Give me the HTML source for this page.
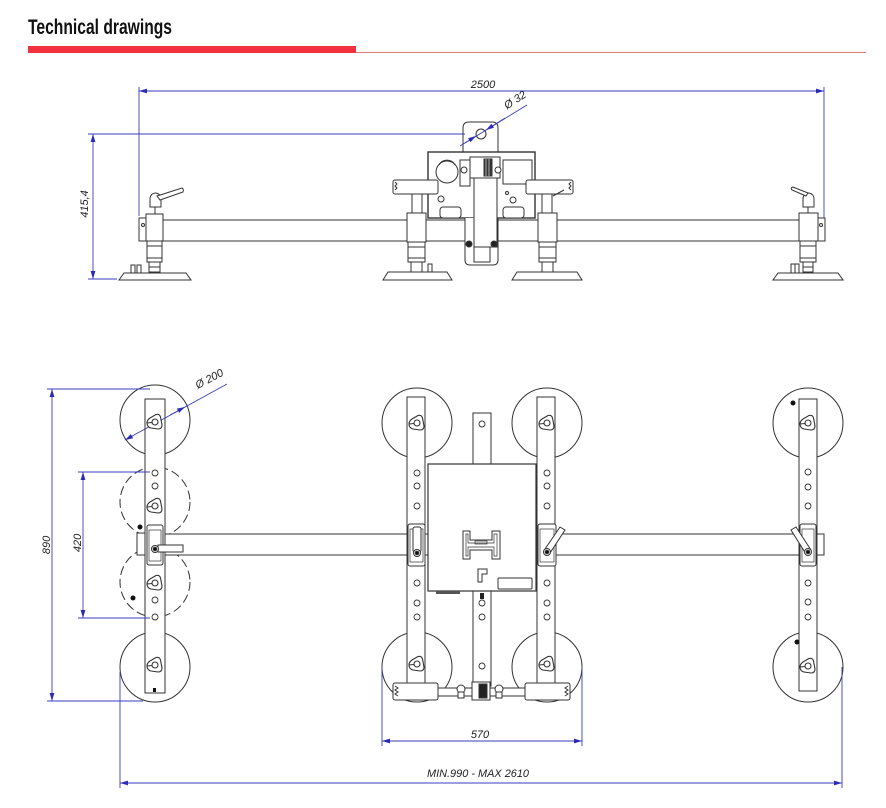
<!DOCTYPE html>
<html><head><meta charset="utf-8"><style>
html,body{margin:0;padding:0;background:#fff;width:886px;height:808px;overflow:hidden}
svg{display:block}
</style></head><body>
<svg width="886" height="808" viewBox="0 0 886 808" xmlns="http://www.w3.org/2000/svg">
<defs>
<marker id="ar" viewBox="0 0 8 6" refX="8" refY="3" markerWidth="8" markerHeight="6" markerUnits="userSpaceOnUse" orient="auto-start-reverse"><path d="M0,0.6 L8,3 L0,5.4 z" fill="#2b2bb8"/></marker>
<g id="knob" fill="#fff" stroke="#333" stroke-width="1.1">
<path d="M-8,1 Q-8,-2 -5,-4 L1,-7.5 Q4.5,-8.5 5.5,-5 L7,3 Q7,7 3,7 L-4,6 Q-8,5 -8,1 Z"/>
<circle cx="0" cy="0" r="3"/>
<line x1="-8" y1="1" x2="-3" y2="0.5"/>
</g>
<g id="hole"><circle cx="0" cy="0" r="3" fill="#fff" stroke="#333" stroke-width="0.9"/></g>
</defs>

<!-- Header -->
<text x="28" y="34" font-family="'Liberation Sans Narrow','Liberation Sans',sans-serif" font-weight="bold" font-size="21" textLength="144" lengthAdjust="spacingAndGlyphs" fill="#111">Technical drawings</text>
<rect x="28" y="46" width="328" height="7" fill="#f2333f"/>
<line x1="356" y1="52.5" x2="866" y2="52.5" stroke="#e07880" stroke-width="1"/>

<!-- ================= TOP VIEW ================= -->
<g stroke="#333" stroke-width="1" fill="#fff">
  <rect x="147" y="220" width="671" height="21"/>
  <rect x="139" y="218" width="8" height="23"/>
  <circle cx="143" cy="225" r="1.5" fill="none"/>
  <rect x="818" y="218" width="7" height="23"/>
  <circle cx="821" cy="225" r="1.5" fill="none"/>

  <!-- left outer leg -->
  <line x1="155" y1="206" x2="155" y2="214"/>
  <path d="M150,207 L150,198 Q151,193 156,193 Q161,194 161,199 L161,207 Z"/>
  <path d="M157,196 L182,188 Q184,189 183,192 L160,200 Z"/>
  <rect x="146" y="214" width="17" height="27"/>
  <rect x="147" y="241" width="15" height="21"/>
  <line x1="147" y1="246" x2="162" y2="246"/>
  <line x1="147" y1="258" x2="162" y2="258"/>
  <rect x="149" y="262" width="11" height="10"/>
  <line x1="149" y1="267" x2="160" y2="267"/>
  <rect x="131" y="265" width="4" height="8"/>
  <rect x="137" y="265" width="4" height="8"/>
  <polygon points="119,280 124,273 186,273 191,280"/>

  <!-- right outer leg -->
  <line x1="808" y1="206" x2="808" y2="213"/>
  <path d="M803,207 L803,198 Q804,193 809,193 Q814,194 814,199 L814,207 Z"/>
  <path d="M806,196 L792,190 Q790,188 793,187 L808,193 Z"/>
  <rect x="799" y="213" width="19" height="28"/>
  <rect x="800" y="241" width="16" height="21"/>
  <line x1="800" y1="246" x2="816" y2="246"/>
  <line x1="800" y1="258" x2="816" y2="258"/>
  <rect x="803" y="262" width="10" height="10"/>
  <line x1="803" y1="267" x2="813" y2="267"/>
  <rect x="791" y="264" width="4" height="9"/>
  <rect x="795" y="264" width="4" height="9"/>
  <polygon points="773,280 778,273 838,273 843,280"/>

  <!-- housing -->
  <path d="M463,152 V128 Q463,122 469,122 H492 Q498,122 498,128 V152"/>
  <circle cx="481" cy="134" r="5"/>
  <rect x="428" y="152" width="107" height="66" stroke-width="1.4"/>
  <circle cx="447" cy="172" r="11"/>
  <path d="M439,165 A9,9 0 0 1 455,165" fill="none"/>
  <rect x="503" y="160" width="29" height="24"/>
  <rect x="460" y="160" width="10" height="26" fill="none"/>
  <rect x="470" y="157" width="30" height="21"/>
  <rect x="484" y="159" width="8" height="17" fill="#333"/>
  <line x1="486" y1="159" x2="486" y2="176" stroke="#fff" stroke-width="0.6"/>
  <line x1="489" y1="159" x2="489" y2="176" stroke="#fff" stroke-width="0.6"/>
  <circle cx="464" cy="170" r="3"/>
  <circle cx="498" cy="170" r="3"/>
  <circle cx="441" cy="199" r="3"/>
  <circle cx="513" cy="200" r="3"/>
  <circle cx="507" cy="193" r="1.5" fill="none"/>
  <rect x="440" y="207" width="21" height="11" rx="3"/>
  <rect x="503" y="207" width="21" height="11" rx="3"/>

  <!-- central column + U -->
  <path d="M465,218 V260 Q465,265 470,265 H493 Q498,265 498,260 V218"/>
  <rect x="474" y="178" width="23" height="69"/>
  <rect x="474" y="247" width="16" height="15"/>
  <circle cx="469" cy="244" r="3" fill="#222"/>
  <circle cx="494" cy="244" r="3" fill="#222"/>

  <!-- handles -->
  <rect x="393" y="180" width="45" height="14" rx="2"/>
  <path d="M395,182 l2,2 l-2,2 l2,2 l-2,2" fill="none"/>
  <rect x="526" y="180" width="47" height="14" rx="2"/>
  <path d="M571,182 l-2,2 l2,2 l-2,2 l2,2" fill="none"/>
  <path d="M553,196 L564,190" fill="none"/>

  <!-- inner left leg -->
  <rect x="412" y="194" width="10" height="19"/>
  <rect x="407" y="213" width="19" height="29"/>
  <rect x="408" y="242" width="17" height="20"/>
  <line x1="408" y1="247" x2="425" y2="247"/>
  <line x1="408" y1="258" x2="425" y2="258"/>
  <rect x="411" y="262" width="11" height="10"/>
  <rect x="428" y="264" width="4" height="8"/>
  <polygon points="383,280 388,272 447,272 452,280"/>

  <!-- inner right leg -->
  <rect x="542" y="194" width="10" height="19"/>
  <rect x="538" y="213" width="19" height="29"/>
  <rect x="539" y="242" width="17" height="20"/>
  <line x1="539" y1="247" x2="556" y2="247"/>
  <line x1="539" y1="258" x2="556" y2="258"/>
  <rect x="542" y="262" width="11" height="10"/>
  <polygon points="512,280 517,272 577,272 582,280"/>
</g>

<!-- top view dimensions -->
<g stroke="#3b3bc0" stroke-width="0.9" fill="none">
  <line x1="139" y1="87" x2="139" y2="216"/>
  <line x1="824" y1="87" x2="824" y2="218"/>
  <line x1="139" y1="91" x2="824" y2="91" marker-start="url(#ar)" marker-end="url(#ar)"/>
  <line x1="88" y1="134" x2="465" y2="134"/>
  <line x1="88" y1="279" x2="117" y2="279"/>
  <line x1="93" y1="134" x2="93" y2="279" marker-start="url(#ar)" marker-end="url(#ar)"/>
  <line x1="465" y1="143" x2="527" y2="105"/>
  <line x1="460" y1="146" x2="476" y2="136" marker-end="url(#ar)"/>
  <line x1="505" y1="118" x2="486" y2="130" marker-end="url(#ar)"/>
</g>
<g font-family="'Liberation Sans',sans-serif" font-style="italic" font-size="11" fill="#222" text-anchor="middle">
  <text x="483" y="88">2500</text>
  <text transform="translate(88,204) rotate(-90)">415,4</text>
  <text transform="translate(517,103) rotate(-33)">Ø 32</text>
</g>

<!-- ================= BOTTOM VIEW ================= -->
<g stroke="#333" stroke-width="1" fill="none">
  <circle cx="155" cy="420" r="35"/>
  <circle cx="155" cy="667" r="35"/>
  <circle cx="155" cy="502" r="35" stroke-dasharray="9 4"/>
  <circle cx="155" cy="582" r="35" stroke-dasharray="9 4"/>
  <circle cx="417" cy="423" r="35"/>
  <circle cx="547" cy="423" r="35"/>
  <circle cx="417" cy="667" r="35"/>
  <circle cx="547" cy="667" r="35"/>
  <circle cx="808" cy="423" r="35"/>
  <circle cx="808" cy="667" r="35"/>
</g>
<!-- Ø200 line under bars -->
<g stroke="#3b3bc0" stroke-width="0.9" fill="none">
  <line x1="125" y1="440" x2="227" y2="384" marker-start="url(#ar)"/>
  <line x1="170" y1="415" x2="185" y2="407" marker-end="url(#ar)"/>
</g>
<g stroke="#333" stroke-width="1" fill="#fff">
  <rect x="147" y="534" width="670" height="21"/>
  <rect x="137" y="533" width="10" height="22"/>
  <rect x="817" y="534" width="7" height="21"/>
  <rect x="145" y="399" width="20" height="294"/>
  <rect x="407" y="397" width="18" height="293"/>
  <rect x="537" y="397" width="18" height="293"/>
  <rect x="799" y="399" width="18" height="292"/>
  <rect x="473" y="413" width="18" height="51"/>
  <rect x="473" y="591" width="18" height="95"/>
  <rect x="428" y="464" width="108" height="127" stroke-width="1.2"/>
  <rect x="436" y="591" width="24" height="3" fill="#555" stroke="none"/>
  <rect x="480" y="593" width="4" height="6" fill="#222" stroke="none"/>
  <path d="M463,531 H470 V540 H492 V531 H500 V559 H492 V550 H470 V559 H463 Z"/>
  <path d="M466,534 H468 V543 H494 V534 H497 V556 H494 V547 H468 V556 H466 Z" fill="none" stroke-width="0.7"/>
  <rect x="475" y="541" width="12" height="3" fill="none" stroke-width="0.7"/>
  <path d="M478,582 V569 H487 V574 H482 V582 Z"/>
  <rect x="498" y="578" width="34" height="11" rx="1"/>
</g>
<!-- Ø200 line visible over bar -->
<line x1="145" y1="429" x2="165" y2="418" stroke="#3b3bc0" stroke-width="0.9"/>

<!-- clamps -->
<g stroke="#333" stroke-width="1" fill="#fff">
  <rect x="147" y="525" width="16" height="40" rx="2"/>
  <rect x="149" y="530" width="12" height="31" fill="none" stroke-width="0.7"/>
  <rect x="158" y="545" width="25" height="7"/>
  <circle cx="155" cy="549" r="3.5"/>
  <circle cx="155" cy="549" r="1.8" fill="#111"/>

  <rect x="408" y="524" width="17" height="42" rx="2"/>
  <rect x="410" y="529" width="13" height="33" fill="none" stroke-width="0.7"/>
  <rect x="413" y="527" width="8" height="25" rx="2"/>
  <circle cx="417" cy="553" r="3.5"/>
  <circle cx="417" cy="553" r="1.8" fill="#111"/>

  <rect x="538" y="524" width="18" height="42" rx="2"/>
  <rect x="540" y="529" width="14" height="33" fill="none" stroke-width="0.7"/>
  <path d="M545,549 L560,527 L565,530 L550,553 Z"/>
  <circle cx="547" cy="552" r="3.5"/>
  <circle cx="547" cy="552" r="1.8" fill="#111"/>

  <rect x="800" y="524" width="16" height="42" rx="2"/>
  <rect x="802" y="529" width="12" height="33" fill="none" stroke-width="0.7"/>
  <path d="M806,554 L791,530 L796,527 L811,550 Z"/>
  <circle cx="808" cy="552" r="3.5"/>
  <circle cx="808" cy="552" r="1.8" fill="#111"/>
</g>

<!-- knobs -->
<use href="#knob" x="155" y="422"/>
<use href="#knob" x="155" y="506"/>
<use href="#knob" x="155" y="583"/>
<use href="#knob" x="155" y="665"/>
<use href="#knob" x="417" y="423"/>
<use href="#knob" x="547" y="423"/>
<use href="#knob" x="417" y="664"/>
<use href="#knob" x="547" y="664"/>
<use href="#knob" x="808" y="423"/>
<use href="#knob" x="808" y="666"/>

<!-- holes -->
<use href="#hole" x="155" y="473"/><use href="#hole" x="155" y="486"/>
<use href="#hole" x="155" y="600"/><use href="#hole" x="155" y="617"/>
<use href="#hole" x="417" y="473"/><use href="#hole" x="417" y="486"/><use href="#hole" x="417" y="506"/>
<use href="#hole" x="417" y="583"/><use href="#hole" x="417" y="603"/><use href="#hole" x="417" y="617"/>
<use href="#hole" x="547" y="473"/><use href="#hole" x="547" y="486"/><use href="#hole" x="547" y="506"/>
<use href="#hole" x="547" y="583"/><use href="#hole" x="547" y="603"/><use href="#hole" x="547" y="617"/>
<use href="#hole" x="808" y="472"/><use href="#hole" x="808" y="487"/><use href="#hole" x="808" y="506"/>
<use href="#hole" x="808" y="583"/><use href="#hole" x="808" y="602"/><use href="#hole" x="808" y="617"/>
<use href="#hole" x="482" y="424"/>
<use href="#hole" x="482" y="603"/><use href="#hole" x="482" y="617"/><use href="#hole" x="482" y="666"/>

<!-- black dots -->
<g fill="#111">
  <circle cx="140" cy="527" r="2.5"/>
  <circle cx="133" cy="598" r="2.5"/>
  <circle cx="793" cy="403" r="2.5"/>
  <circle cx="797" cy="642" r="2.5"/>
  <rect x="153" y="688" width="3" height="4"/>
</g>

<!-- bottom handle -->
<g stroke="#333" stroke-width="1" fill="#fff">
  <rect x="438" y="688" width="34" height="8"/>
  <rect x="490" y="688" width="35" height="8"/>
  <rect x="393" y="683" width="45" height="17" rx="2"/>
  <path d="M395,686 l3,2 l-3,2 l3,2 l-3,2 l3,2" fill="none"/>
  <rect x="525" y="683" width="45" height="17" rx="2"/>
  <path d="M568,686 l-3,2 l3,2 l-3,2 l3,2 l-3,2" fill="none"/>
  <rect x="472" y="682" width="18" height="18"/>
  <rect x="479" y="684" width="8" height="14" fill="#222"/>
  <circle cx="461" cy="689" r="4"/>
  <circle cx="499" cy="689" r="4"/>
  <rect x="458" y="692" width="6" height="6"/>
  <rect x="496" y="692" width="6" height="6"/>
</g>

<!-- bottom view dimensions -->
<g stroke="#3b3bc0" stroke-width="0.9" fill="none">
  <line x1="47" y1="389" x2="150" y2="389"/>
  <line x1="47" y1="701" x2="143" y2="701"/>
  <line x1="52" y1="389" x2="52" y2="701" marker-start="url(#ar)" marker-end="url(#ar)"/>
  <line x1="78" y1="472" x2="150" y2="472"/>
  <line x1="78" y1="618" x2="150" y2="618"/>
  <line x1="83" y1="472" x2="83" y2="618" marker-start="url(#ar)" marker-end="url(#ar)"/>
  <line x1="382" y1="667" x2="382" y2="746"/>
  <line x1="582" y1="667" x2="582" y2="746"/>
  <line x1="382" y1="741" x2="582" y2="741" marker-start="url(#ar)" marker-end="url(#ar)"/>
  <line x1="120" y1="672" x2="120" y2="788"/>
  <line x1="842" y1="667" x2="842" y2="788"/>
  <line x1="120" y1="783" x2="842" y2="783" marker-start="url(#ar)" marker-end="url(#ar)"/>
</g>
<g font-family="'Liberation Sans',sans-serif" font-style="italic" font-size="11" fill="#222" text-anchor="middle">
  <text transform="translate(50,545) rotate(-90)">890</text>
  <text transform="translate(81,543) rotate(-90)">420</text>
  <text transform="translate(211,382) rotate(-28)">Ø 200</text>
  <text x="480" y="738">570</text>
  <text x="478" y="777" textLength="102" lengthAdjust="spacingAndGlyphs">MIN.990 - MAX 2610</text>
</g>
</svg>
</body></html>
